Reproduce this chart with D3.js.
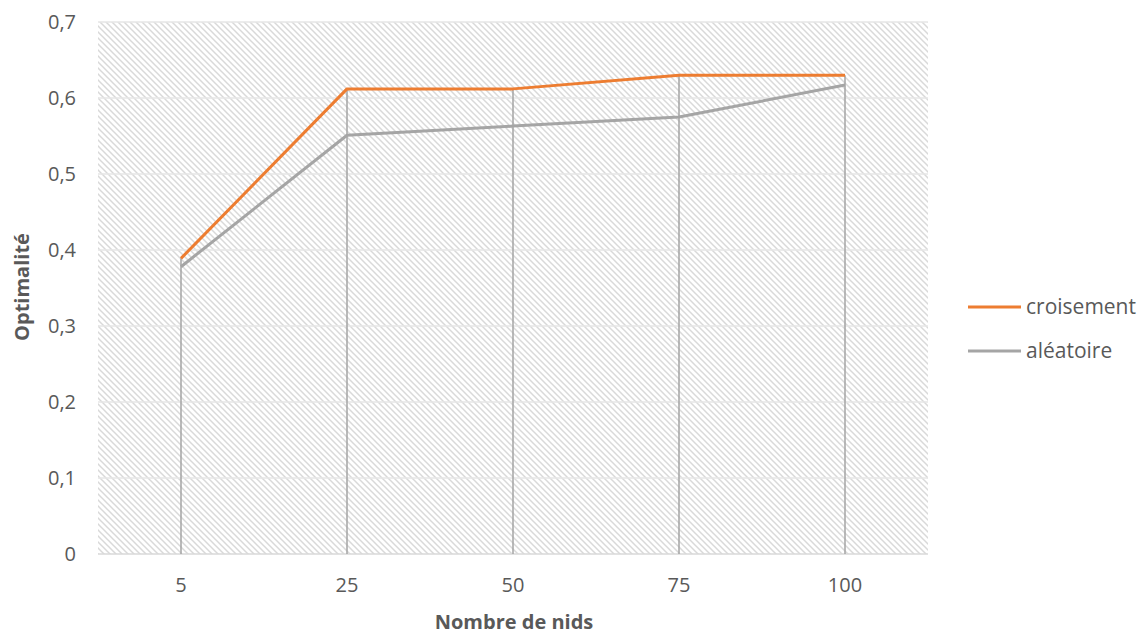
<!DOCTYPE html>
<html>
<head>
<meta charset="utf-8">
<script src="https://cdn.jsdelivr.net/npm/d3@7"></script>
<style>
  html, body { margin: 0; padding: 0; background: #fff; }
  svg { display: block; font-family: "Open Sans", "Noto Sans", sans-serif; }
</style>
</head>
<body>
<svg id="chart" width="1142" height="637"></svg>
<script>
const categories = ["5", "25", "50", "75", "100"];
const croisement = [0.389, 0.612, 0.612, 0.630, 0.630];
const aleatoire = [0.378, 0.551, 0.563, 0.575, 0.617];
const yTicks = [0, 0.1, 0.2, 0.3, 0.4, 0.5, 0.6, 0.7];
const seriesNames = ["croisement", "aléatoire"];
const seriesColors = ["#ed7d31", "#a5a5a5"];

const svg = d3.select("#chart");
const pLeft = 98, pRight = 928, pTop = 22, pBottom = 554;

const x = d3.scaleBand().domain(categories).range([pLeft, pRight]);
const y = d3.scaleLinear().domain([0, 0.7]).range([pBottom, pTop]);

const defs = svg.append("defs");
const pat = defs.append("pattern")
  .attr("id", "hatch").attr("patternUnits", "userSpaceOnUse")
  .attr("width", 6).attr("height", 6);
pat.append("path").attr("d", "M-1,-1 L7,7 M-4,2 L4,10 M2,-4 L10,4")
  .attr("stroke", "#d9d9d9").attr("stroke-width", 1.5);

svg.append("rect").attr("x", pLeft).attr("y", pTop)
  .attr("width", pRight - pLeft).attr("height", pBottom - pTop)
  .attr("fill", "url(#hatch)");

// gridlines
svg.append("g").selectAll("line").data(yTicks).join("line")
  .attr("x1", pLeft).attr("x2", pRight)
  .attr("y1", d => y(d)).attr("y2", d => y(d))
  .attr("stroke", d => d === 0 ? "#d9d9d9" : "#e6e6e6").attr("stroke-width", 1.3);

// y tick labels
const fmt = d => d === 0 ? "0" : d3.format(".1f")(d).replace(".", ",");
svg.append("g").selectAll("text").data(yTicks).join("text")
  .attr("x", 76).attr("y", d => y(d)).attr("dy", "0.35em")
  .attr("text-anchor", "end").attr("fill", "#595959").attr("font-size", 20)
  .text(fmt);

// x tick labels
svg.append("g").selectAll("text").data(categories).join("text")
  .attr("x", d => x(d) + x.bandwidth() / 2).attr("y", 592)
  .attr("text-anchor", "middle").attr("fill", "#595959").attr("font-size", 20)
  .text(d => d);

// drop lines
svg.append("g").selectAll("line").data(categories).join("line")
  .attr("x1", d => x(d) + x.bandwidth() / 2).attr("x2", d => x(d) + x.bandwidth() / 2)
  .attr("y1", (d, i) => y(Math.max(croisement[i], aleatoire[i])))
  .attr("y2", pBottom)
  .attr("stroke", "#a5a5a5").attr("stroke-width", 1.5);

// lines
const line = d3.line()
  .x((d, i) => x(categories[i]) + x.bandwidth() / 2)
  .y(d => y(d));
[croisement, aleatoire].forEach((s, k) => {
  svg.append("path").datum(s).attr("d", line)
    .attr("fill", "none").attr("stroke", seriesColors[k])
    .attr("stroke-width", 3).attr("stroke-linejoin", "round");
});

// axis titles
svg.append("text").attr("x", (pLeft + pRight) / 2 + 1).attr("y", 629)
  .attr("text-anchor", "middle").attr("fill", "#595959")
  .attr("font-size", 20).attr("font-weight", "bold").text("Nombre de nids");
svg.append("text").attr("transform", "translate(29,287) rotate(-90)")
  .attr("text-anchor", "middle").attr("fill", "#595959")
  .attr("font-size", 20).attr("font-weight", "bold").text("Optimalité");

// legend
const lg = svg.append("g");
seriesNames.forEach((n, k) => {
  const ly = 307 + k * 44;
  lg.append("line").attr("x1", 968).attr("x2", 1021).attr("y1", ly).attr("y2", ly)
    .attr("stroke", seriesColors[k]).attr("stroke-width", 3);
  lg.append("text").attr("x", 1026).attr("y", ly).attr("dy", "0.35em")
    .attr("fill", "#595959").attr("font-size", 21).text(n);
});
</script>
</body>
</html>
